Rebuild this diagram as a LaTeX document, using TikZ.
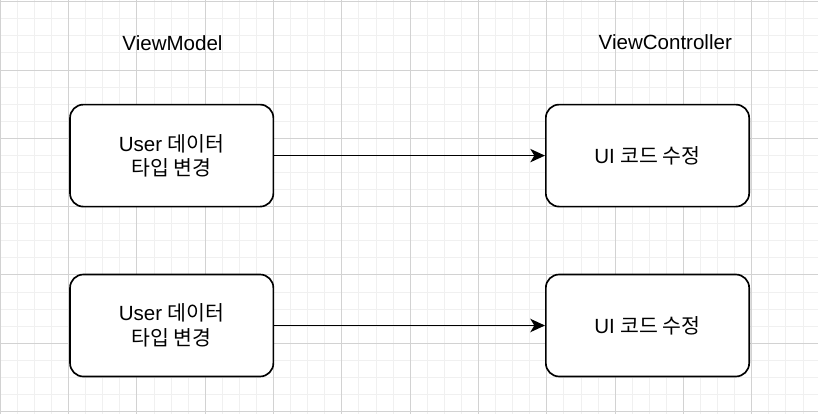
\documentclass[tikz,border=0pt]{standalone}
\usepackage{fontspec}
\setmainfont{Liberation Sans}
\newfontfamily\kr{Noto Sans CJK KR}
\usetikzlibrary{arrows.meta}

\tikzset{every picture/.style={line width=0.75pt}}
\tikzset{
  minorgrid/.style={color={rgb, 255:red, 240; green, 240; blue, 240 }, line width=0.75pt},
  majorgrid/.style={color={rgb, 255:red, 210; green, 210; blue, 210 }, line width=0.75pt},
  stagebox/.style={draw, fill=white, line width=1.25pt, rounded corners=10pt, minimum width=152.5pt, minimum height=76.5pt, align=center, font=\fontsize{15.4}{18.4}\selectfont},
  headtext/.style={font=\fontsize{15.4}{18.4}\selectfont},
  flow/.style={line width=1.25pt, -{Stealth[length=11pt, width=10pt, inset=3pt]}}
}

\begin{document}
\begin{tikzpicture}[x=0.75pt,y=0.75pt,yscale=-1,xscale=1]
\useasboundingbox (0,0) rectangle (818,414);
\fill[white] (0,0) rectangle (818,414);

%Grid
\foreach \i in {0,...,47} \draw[minorgrid] ({0.3+17.08*\i},0) -- ({0.3+17.08*\i},414);
\foreach \j in {0,...,24} \draw[minorgrid] (0,{1.7+17.08*\j}) -- (818,{1.7+17.08*\j});
\foreach \i in {0,...,11} \draw[majorgrid] ({0.3+68.32*\i},0) -- ({0.3+68.32*\i},414);
\foreach \j in {0,...,6} \draw[majorgrid] (0,{1.7+68.32*\j}) -- (818,{1.7+68.32*\j});

% Text Node
\node[headtext] (vmlabel) at (172.5,43) {ViewModel};
% Text Node
\node[headtext] (vclabel) at (665.3,42) {ViewController};

%Rounded Rect
\node[stagebox] (vm1) at (171.7,155.6) {User {\kr 데이터}\\{\kr 타입 변경}};
%Rounded Rect
\node[stagebox] (vc1) at (647.5,155.6) {UI {\kr 코드 수정}};
%Rounded Rect
\node[stagebox] (vm2) at (171.7,325.5) {User {\kr 데이터}\\{\kr 타입 변경}};
%Rounded Rect
\node[stagebox] (vc2) at (647.5,325.5) {UI {\kr 코드 수정}};

%Straight Lines
\draw[flow] (vm1) -- (vc1);
%Straight Lines
\draw[flow] (vm2) -- (vc2);

\end{tikzpicture}
\end{document}
